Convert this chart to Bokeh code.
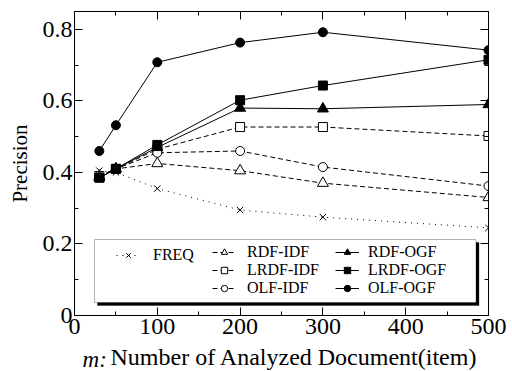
from bokeh.plotting import figure
from bokeh.models import (ColumnDataSource, Legend, LegendItem, LinearAxis, FixedTicker,
                          BoxAnnotation, Label, Range1d)
from bokeh.embed import file_html
from bokeh.resources import INLINE

# ---- data ----
m_docs = [30, 50, 100, 200, 300, 500]
freq = [0.405, 0.400, 0.355, 0.295, 0.275, 0.245]
rdf_idf = [0.390, 0.410, 0.425, 0.405, 0.370, 0.330]
lrdf_idf = [0.390, 0.410, 0.465, 0.527, 0.527, 0.502]
olf_idf = [0.390, 0.410, 0.455, 0.460, 0.415, 0.362]
rdf_ogf = [0.385, 0.410, 0.470, 0.580, 0.578, 0.590]
lrdf_ogf = [0.385, 0.410, 0.477, 0.602, 0.643, 0.715]
olf_ogf = [0.460, 0.532, 0.708, 0.763, 0.792, 0.742]

x_ticks = [0, 100, 200, 300, 400, 500]
y_ticks = [0, 0.2, 0.4, 0.6, 0.8]
y_tick_labels = ["0", "0.2", "0.4", "0.6", "0.8"]
x_title_var = "m:"
x_title_text = "Number of Analyzed Document(item)"

FONT = "Liberation Serif"

p = figure(width=512, height=371, output_backend="svg", toolbar_location=None,
           x_range=Range1d(0, 500), y_range=Range1d(0, 0.85),
           min_border_left=74, min_border_right=24, min_border_top=11, min_border_bottom=56)
p.xgrid.visible = False
p.ygrid.visible = False
p.outline_line_color = "black"
p.outline_line_width = 1
p.background_fill_color = "white"
p.border_fill_color = "white"

def style_axis(ax, ticks, minor, show_labels):
    ax.ticker = FixedTicker(ticks=ticks, minor_ticks=minor)
    ax.axis_line_color = "black"
    ax.major_tick_in = 8
    ax.major_tick_out = 0
    ax.minor_tick_in = 4
    ax.minor_tick_out = 0
    ax.major_tick_line_color = "black"
    ax.minor_tick_line_color = "black"
    ax.major_label_text_font = FONT
    ax.major_label_text_color = "black"
    if show_labels:
        ax.major_label_text_font_size = "24px"
    else:
        ax.major_label_text_font_size = "0px"
        ax.major_label_standoff = 0

x_minor = [50, 150, 250, 350, 450]
y_minor = [0.1, 0.3, 0.5, 0.7]

xa = p.xaxis[0]
style_axis(xa, x_ticks, x_minor, True)
xa.major_label_standoff = 3

ya = p.yaxis[0]
style_axis(ya, y_ticks, y_minor, True)
ya.major_label_overrides = {t: l for t, l in zip(y_ticks, y_tick_labels)}
ya.major_label_standoff = 2
ya.axis_label = "Precision"
ya.axis_label_standoff = 8
ya.axis_label_text_font = FONT
ya.axis_label_text_font_size = "21px"
ya.axis_label_text_font_style = "normal"
ya.axis_label_text_color = "black"

top = LinearAxis()
style_axis(top, x_ticks, x_minor, False)
p.add_layout(top, "above")
right = LinearAxis()
style_axis(right, y_ticks, y_minor, False)
p.add_layout(right, "right")

# x-axis title: upright text in the panel below the x axis,
# italic "m:" hosted in the right-hand panel but drawn at the bottom left
p.add_layout(Label(x=43.5, y=6, x_units="data", y_units="screen", text=x_title_text,
                   text_font=FONT, text_font_size="24px", text_font_style="normal",
                   text_baseline="alphabetic", text_color="black"), "below")
p.add_layout(Label(x=9.7, y=-44, x_units="data", y_units="screen", text=x_title_var,
                   text_font=FONT, text_font_size="23px", text_font_style="italic",
                   text_baseline="alphabetic", text_color="black"), "right")

# series
series = [
    ("FREQ", freq, "x", "1 5", "white", 9),
    ("RDF-IDF", rdf_idf, "triangle", "5 3", "white", 11),
    ("LRDF-IDF", lrdf_idf, "square", "5 3", "white", 9),
    ("OLF-IDF", olf_idf, "circle", "5 3", "white", 9),
    ("RDF-OGF", rdf_ogf, "triangle", "solid", "black", 11),
    ("LRDF-OGF", lrdf_ogf, "square", "solid", "black", 9),
    ("OLF-OGF", olf_ogf, "circle", "solid", "black", 9),
]

# legend box with shadow (behind legends)
p.add_layout(BoxAnnotation(left=27.8, right=488.5, top=0.204, bottom=0.028,
                           fill_color="black", fill_alpha=1, line_color="black", level="annotation"))
p.add_layout(BoxAnnotation(left=24.2, right=484.9, top=0.2125, bottom=0.0364,
                           fill_color="white", fill_alpha=1, line_color="black", line_width=1,
                           level="annotation"))

items = {}
for name, vals, marker, dash, fill, size in series:
    src = ColumnDataSource(dict(x=m_docs, y=vals))
    ln = p.line("x", "y", source=src, line_color="black", line_width=1, line_dash=dash)
    sc = p.scatter("x", "y", source=src, marker=marker, size=size, fill_color=fill,
                   line_color="black", line_width=1)
    items[name] = LegendItem(label=name, renderers=[ln, sc])

def make_legend(names, loc, standoff):
    lg = Legend(items=[items[n] for n in names], location=loc, orientation="vertical",
                padding=0, margin=0, spacing=0, glyph_width=24, glyph_height=16,
                label_height=16, label_standoff=standoff,
                label_text_font=FONT, label_text_font_size="16px", label_text_color="black",
                background_fill_alpha=0, border_line_alpha=0)
    p.add_layout(lg, "center")

make_legend(["FREQ"], (42, 51), 13)
make_legend(["RDF-IDF", "LRDF-IDF", "OLF-IDF"], (138, 18), 11)
make_legend(["RDF-OGF", "LRDF-OGF", "OLF-OGF"], (261, 18), 9)

open("out.html", "w").write(file_html(p, INLINE))
